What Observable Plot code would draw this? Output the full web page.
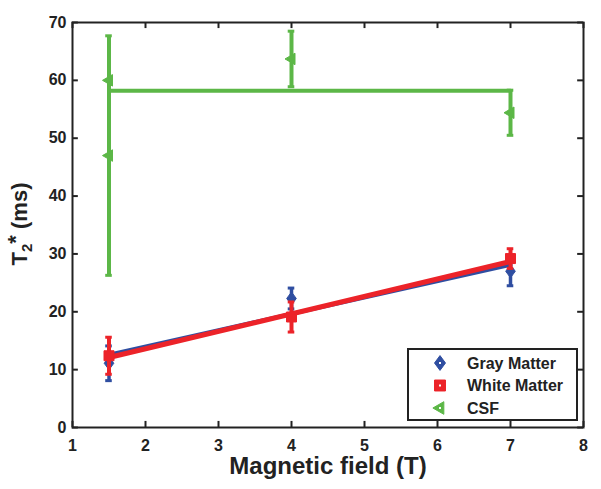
<!DOCTYPE html>
<html><head><meta charset="utf-8">
<script src="https://cdn.jsdelivr.net/npm/d3@7"></script>
<script src="https://cdn.jsdelivr.net/npm/@observablehq/plot@0.6"></script>
<style>body{margin:0;background:#fff;} svg{display:block;}</style>
</head><body><div id="chart"></div>
<script>
// Data
const fields = [1.5, 4, 7];
const grayMean = [11.1, 22.3, 27.0];
const grayErr = [3.0, 1.8, 2.5];
const whiteMean = [12.4, 19.1, 29.2];
const whiteErr = [3.2, 2.6, 1.7];
const csfField = [1.5, 1.5, 4, 7];
const csfMean = [60.0, 47.0, 63.7, 54.4];
const csfErr = [0, 20.7, 4.8, 3.9];
// linear fits (values at the end points of the fitted range)
const fitField = [1.5, 7];
const grayFit = [12.6, 28.1];
const whiteFit = [12.1, 28.7];
const csfFit = [58.2, 58.2];
const xTicks = [1, 2, 3, 4, 5, 6, 7, 8];
const yTicks = [0, 10, 20, 30, 40, 50, 60, 70];
const seriesNames = ["Gray Matter", "White Matter", "CSF"];
const xLabel = "Magnetic field (T)";
const colors = ["#2f4ea1", "#ec2329", "#5cb747"];

const FONT = "'Liberation Sans', Arial, sans-serif";
const diamond = {draw(ctx, size) { const r = Math.sqrt(size / Math.PI); ctx.moveTo(0, -r * 1.35); ctx.lineTo(r, 0); ctx.lineTo(0, r * 1.35); ctx.lineTo(-r, 0); ctx.closePath(); }};
const square = {draw(ctx, size) { const r = Math.sqrt(size / Math.PI); ctx.rect(-r, -r, 2 * r, 2 * r); }};
const triLeft = {draw(ctx, size) { const r = Math.sqrt(size / Math.PI); ctx.moveTo(-r * 1.3, 0); ctx.lineTo(r * 0.7, -r * 1.15); ctx.lineTo(r * 0.7, r * 1.15); ctx.closePath(); }};

const gray = fields.map((x, i) => ({x, y: grayMean[i], e: grayErr[i]}));
const white = fields.map((x, i) => ({x, y: whiteMean[i], e: whiteErr[i]}));
const csf = csfField.map((x, i) => ({x, y: csfMean[i], e: csfErr[i]}));
const fits = [grayFit, whiteFit, csfFit].map((f, k) => fitField.map((x, i) => ({x, y: f[i], s: k})));

function errMarks(data, color, sw) {
  const d = data.filter(p => p.e > 0);
  const cap = 0.045;
  return [
    Plot.ruleX(d, {x: "x", y1: p => p.y - p.e, y2: p => p.y + p.e, stroke: color, strokeWidth: sw}),
    Plot.ruleY(d, {y: p => p.y + p.e, x1: p => p.x - cap, x2: p => p.x + cap, stroke: color, strokeWidth: 3}),
    Plot.ruleY(d, {y: p => p.y - p.e, x1: p => p.x - cap, x2: p => p.x + cap, stroke: color, strokeWidth: 3})
  ];
}

const chart = Plot.plot({
  width: 601, height: 489,
  marginLeft: 72, marginRight: 18, marginTop: 22, marginBottom: 62,
  style: {fontFamily: FONT, background: "#fff"},
  x: {domain: [1, 8], axis: null},
  y: {domain: [0, 70], axis: null},
  marks: [
    Plot.text(xTicks, {x: d => d, y: 0, dy: 18, text: d => String(d), fill: "#222"}),
    Plot.text(yTicks, {x: 1, y: d => d, dx: -6, text: d => String(d), textAnchor: "end", fill: "#222"}),
    Plot.ruleX(xTicks, {x: d => d, y1: 0, y2: 1.05, stroke: "#222", strokeWidth: 2}),
    Plot.ruleX(xTicks, {x: d => d, y1: 70, y2: 68.95, stroke: "#222", strokeWidth: 2}),
    Plot.ruleY(yTicks, {y: d => d, x1: 1, x2: 1.08, stroke: "#222", strokeWidth: 2}),
    Plot.ruleY(yTicks, {y: d => d, x1: 8, x2: 7.92, stroke: "#222", strokeWidth: 2}),
    Plot.line(fits[0], {x: "x", y: "y", stroke: colors[0], strokeWidth: 4}),
    Plot.line(fits[1], {x: "x", y: "y", stroke: colors[1], strokeWidth: 5}),
    Plot.line(fits[2], {x: "x", y: "y", stroke: colors[2], strokeWidth: 4}),
    ...errMarks(gray, colors[0], 3.5),
    Plot.dot(gray, {x: "x", y: "y", symbol: diamond, r: 4.8, fill: colors[0], stroke: colors[0], strokeWidth: 1}),
    ...errMarks(white, colors[1], 4),
    Plot.dot(white, {x: "x", y: "y", symbol: square, r: 5, fill: colors[1], stroke: colors[1], strokeWidth: 1}),
    ...errMarks(csf, colors[2], 4),
    Plot.dot(csf, {x: "x", y: "y", symbol: triLeft, r: 5, fill: colors[2], stroke: colors[2], strokeWidth: 1}),
    Plot.frame({stroke: "#222", strokeWidth: 2})
  ]
});
document.getElementById("chart").appendChild(chart);
const svg = d3.select(chart);
// style the tick labels produced by Plot (inline styles win over any defaults)
svg.selectAll("text").each(function() {
  d3.select(this)
    .style("font-family", FONT)
    .style("font-weight", "700")
    .style("font-size", "16px");
});

// X axis label
svg.append("text").attr("x", 328).attr("y", 474).attr("text-anchor", "middle")
  .attr("font-family", FONT).attr("font-size", 24).attr("font-weight", "bold").attr("fill", "#222")
  .text(xLabel);

// Y axis label with subscript / superscript
const yl = svg.append("text")
  .attr("transform", "translate(27,224) rotate(-90)")
  .attr("text-anchor", "middle")
  .attr("font-size", 22).attr("font-weight", "bold").attr("fill", "#222")
  .attr("font-family", FONT);
yl.append("tspan").text("T");
yl.append("tspan").attr("font-size", 15).attr("dy", 5).text("2");
yl.append("tspan").attr("dy", -9).text("*");
yl.append("tspan").attr("dy", 4).text(" (ms)");

// Legend
const lg = svg.append("g").attr("font-family", FONT).attr("text-anchor", "start");
lg.append("rect").attr("x", 408).attr("y", 349).attr("width", 169).attr("height", 71)
  .attr("fill", "#fff").attr("stroke", "#222").attr("stroke-width", 2);
const syms = [diamond, square, triLeft];
seriesNames.forEach((name, i) => {
  const y = 363 + i * 22.5;
  lg.append("path").attr("transform", `translate(440,${y})`)
    .attr("d", d3.symbol(syms[i], Math.PI * 30)()).attr("fill", colors[i]).attr("stroke", colors[i]);
  lg.append("rect").attr("x", 439).attr("y", y - 1).attr("width", 2).attr("height", 2).attr("fill", "#fff");
  lg.append("text").attr("x", 467).attr("y", y).attr("dy", "0.36em").attr("text-anchor", "start")
    .attr("font-size", 16).attr("font-weight", "bold").attr("fill", "#222").text(name);
});
</script></body></html>
